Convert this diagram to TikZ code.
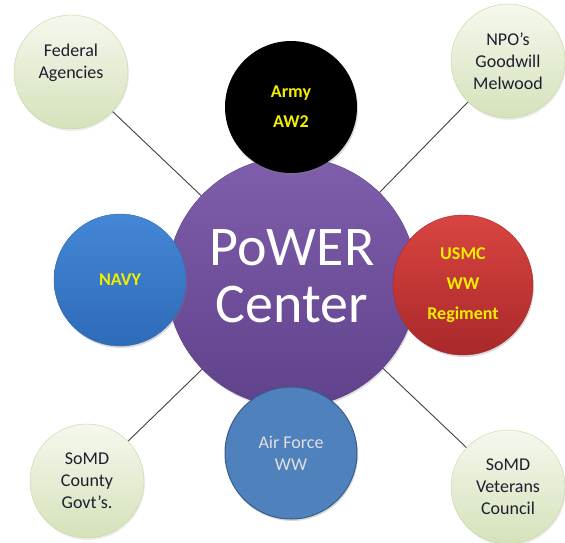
\documentclass[tikz,border=0pt]{standalone}
\usepackage{fontspec}
\setmainfont{Carlito}
\usetikzlibrary{backgrounds,shadows}

\definecolor{hubtop}{HTML}{7F5FAB}
\definecolor{hubbot}{HTML}{60418C}
\definecolor{hubedge}{HTML}{5A3E80}
\definecolor{navytop}{HTML}{4487D6}
\definecolor{navybot}{HTML}{2E6BB8}
\definecolor{usmctop}{HTML}{D94541}
\definecolor{usmcbot}{HTML}{A9282A}
\definecolor{afblue}{HTML}{4F81BD}
\definecolor{afedge}{HTML}{385D8A}
\definecolor{tagyellow}{HTML}{F2EE00}
\definecolor{partnertop}{HTML}{F5F8EE}
\definecolor{partnerbot}{HTML}{D5E2BA}
\definecolor{partneredge}{HTML}{C3D69B}
\definecolor{partnertext}{HTML}{1E1E30}
\definecolor{spoke}{HTML}{404040}

\begin{document}
\begin{tikzpicture}[x=1pt, y=-1pt,
  ring/.style={circle, inner sep=0pt, align=center},
  hub/.style={ring, minimum size=250pt, draw=hubedge, top color=hubtop, bottom color=hubbot,
    text=white, font=\fontsize{56}{57}\selectfont, text depth=11pt,
    drop shadow={opacity=.25, shadow xshift=1pt, shadow yshift=-2pt}},
  branch/.style={ring, minimum size=132pt, text=tagyellow,
    font=\bfseries\fontsize{18}{30}\selectfont,
    drop shadow={opacity=.3, shadow xshift=1pt, shadow yshift=-2pt}},
  partner/.style={ring, minimum size=114pt, draw=partneredge, top color=partnertop,
    bottom color=partnerbot, text=partnertext, font=\fontsize{18}{22}\selectfont,
    drop shadow={opacity=.15, shadow xshift=1pt, shadow yshift=-2pt}},
  link/.style={draw=spoke, line width=.9pt}]
\useasboundingbox (0,0) rectangle (565,542);

% centre and the four services
\node[hub] (power) at (292,282) {PoWER\\Center};
\node[branch, fill=black] (army) at (291,107) {Army\\AW2};
\node[branch, top color=navytop, bottom color=navybot, draw=navybot] (navy) at (120,280) {NAVY};
\node[branch, minimum size=140pt, top color=usmctop, bottom color=usmcbot, draw=usmcbot] (usmc) at (463,285) {USMC\\WW\\Regiment};
\node[branch, fill=afblue, draw=afedge, line width=1pt, text=black!12,
  font=\fontsize{18}{22}\selectfont] (airforce) at (291,453) {Air Force\\WW};

% partners in the corners
\node[partner] (federal) at (71,72) {Federal\\Agencies\\\mbox{}};
\node[partner] (npo) at (508,61) {NPO’s\\Goodwill\\Melwood};
\node[partner] (county) at (87,481) {SoMD\\County\\Govt’s.};
\node[partner] (veterans) at (508,487) {SoMD\\Veterans\\Council};

\begin{scope}[on background layer]
\draw[link] (federal) -- (power);
\draw[link] (npo) -- (power);
\draw[link] (county) -- (power);
\draw[link] (veterans) -- (power);
\end{scope}
\end{tikzpicture}
\end{document}
